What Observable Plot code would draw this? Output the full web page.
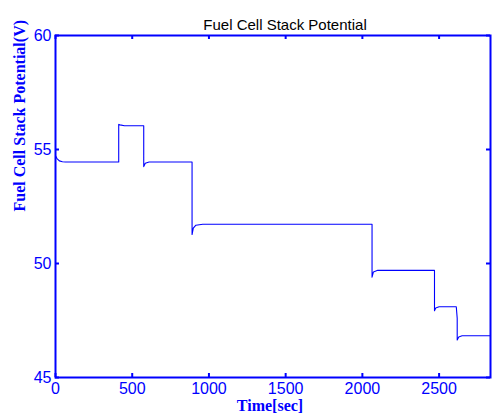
<!DOCTYPE html>
<html>
<head>
<meta charset="utf-8">
<script src="https://cdn.jsdelivr.net/npm/d3@7"></script>
<script src="https://cdn.jsdelivr.net/npm/@observablehq/plot@0.6"></script>
<style>
  body { margin: 0; background: #fff; }
  svg { display: block; }
</style>
</head>
<body>
<div id="chart"></div>
<script>
const title = "Fuel Cell Stack Potential";
const xLabel = "Time[sec]";
const yLabel = "Fuel Cell Stack Potential(V)";
const xTicks = [0, 500, 1000, 1500, 2000, 2500];
const yTicks = [45, 50, 55, 60];
const time    = [0, 10, 25, 45, 65, 412, 412, 420, 450, 575, 575, 585, 610, 890, 890, 898, 915, 960, 2063, 2063, 2072, 2100, 2470, 2470, 2478, 2500, 2612, 2618, 2618, 2628, 2650, 2835];
const voltage = [54.72, 54.6, 54.5, 54.46, 54.45, 54.45, 56.1, 56.08, 56.04, 56.04, 54.25, 54.4, 54.45, 54.45, 51.27, 51.55, 51.68, 51.72, 51.72, 49.4, 49.63, 49.7, 49.7, 47.93, 48.05, 48.1, 48.1, 47.6, 46.65, 46.78, 46.83, 46.83];

const data = time.map((t, i) => ({t, v: voltage[i]}));
const W = 495, H = 420, mL = 55, mR = 5, mT = 35, mB = 43;
const fw = W - mL - mR, fh = H - mT - mB;
const blue = "#0000ff";

const chart = Plot.plot({
  width: W, height: H,
  marginLeft: mL, marginRight: mR, marginTop: mT, marginBottom: mB,
  x: {domain: [0, 2835]},
  y: {domain: [45, 60]},
  style: {background: "#fff", fontFamily: "'Liberation Sans', Arial, sans-serif"},
  marks: [
    Plot.line(data, {x: "t", y: "v", stroke: blue, strokeWidth: 1.1}),
    Plot.tickX(xTicks, {x: d => d, stroke: blue, strokeWidth: 2, insetTop: fh - 4}),
    Plot.tickX(xTicks, {x: d => d, stroke: blue, strokeWidth: 2, insetBottom: fh - 4}),
    Plot.tickY(yTicks, {y: d => d, stroke: blue, strokeWidth: 2, insetRight: fw - 4}),
    Plot.tickY(yTicks, {y: d => d, stroke: blue, strokeWidth: 2, insetLeft: fw - 4}),
    Plot.frame({stroke: blue, strokeWidth: 2}),
    Plot.axisX(xTicks, {tickSize: 0, tickPadding: 5, tickFormat: d => String(d), fill: blue, fontSize: 16, label: null}),
    Plot.axisY(yTicks, {tickSize: 0, tickPadding: 4, tickFormat: d => String(d), fill: blue, fontSize: 16, label: null}),
    Plot.text([title], {text: d => d, frameAnchor: "top", dy: -16, dx: 12, fontSize: 15, fill: "#000"}),
    Plot.text([xLabel], {text: d => d, frameAnchor: "bottom", dy: 33, dx: -3, fontSize: 16, fontWeight: "bold", fontFamily: "'Liberation Serif', 'Times New Roman', serif", fill: blue}),
    Plot.text([yLabel], {text: d => d, frameAnchor: "left", dx: -36, dy: 5, rotate: -90, fontSize: 16, fontWeight: "bold", fontFamily: "'Liberation Serif', 'Times New Roman', serif", fill: blue})
  ]
});
document.getElementById("chart").appendChild(chart);
</script>
</body>
</html>
